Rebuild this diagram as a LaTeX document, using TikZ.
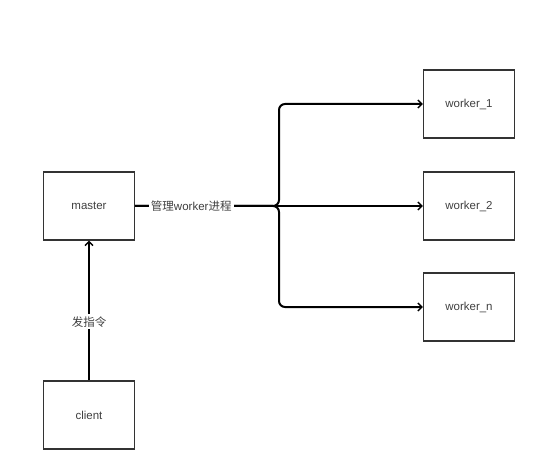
\documentclass[tikz,border=0pt]{standalone}
\usepackage{fontspec}
\setmainfont{Liberation Sans}
\newfontfamily\cjk{Noto Sans CJK SC}
\usetikzlibrary{arrows.meta}
\begin{document}
\begin{tikzpicture}[x=1pt,y=-1pt,
  box/.style={draw=black!80,line width=1.3pt,minimum width=91pt,minimum height=68pt,inner sep=0pt,font=\fontsize{11.5}{13}\selectfont,text=black!75},
  conn/.style={line width=2pt,-{Straight Barb[length=4pt,width=8pt,line width=1.4pt]}},
  lbl/.style={fill=white,inner sep=2pt,font=\fontsize{11.5}{13}\selectfont,text=black!75}]
\useasboundingbox (0,0) rectangle (541,457);
\node[box] (master) at (89,206) {master};
\node[box] (client) at (89,415) {client};
\node[box] (w1) at (469,104) {worker\_1};
\node[box] (w2) at (469,206) {worker\_2};
\node[box] (wn) at (469,307) {worker\_n};
\coordinate (j) at (279,206);
\draw[conn] (client) -- node[lbl,pos=0.42] {\cjk 发指令} (master);
\draw[conn,rounded corners=6pt] (master.east) -- (j) |- (w1.west);
\draw[conn] (master.east) -- (w2.west);
\draw[conn,rounded corners=6pt] (master.east) -- (j) |- (wn.west);
\path (master.east) -- node[lbl,pos=0.39] {\cjk 管理\rmfamily worker\cjk 进程} (j);
\end{tikzpicture}
\end{document}
